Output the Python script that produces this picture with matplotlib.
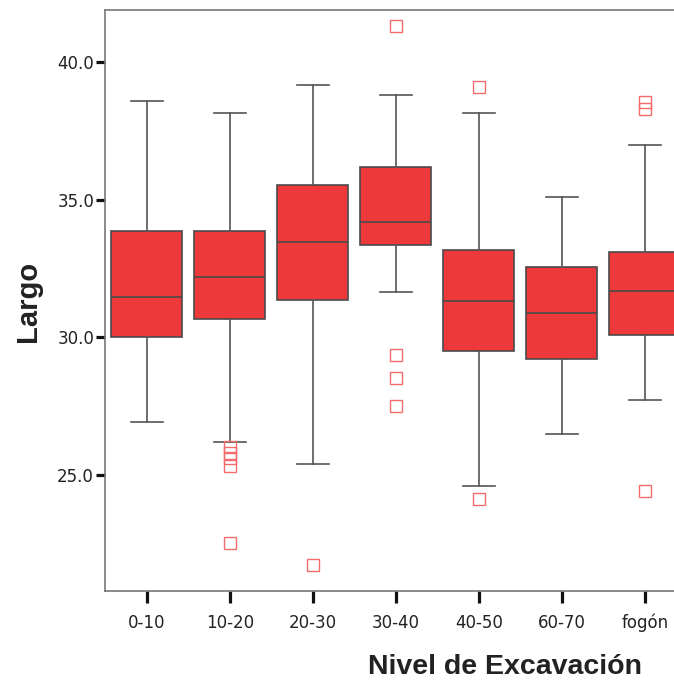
import matplotlib
matplotlib.use("Agg")
import matplotlib.pyplot as plt

categories = ["0-10", "10-20", "20-30", "30-40", "40-50", "60-70", "fogón"]
whislo = [26.92, 26.19, 25.39, 31.65, 24.58, 26.48, 27.72]
q1 = [30.00, 30.67, 31.36, 33.36, 29.48, 29.19, 30.06]
med = [31.47, 32.20, 33.45, 34.20, 31.32, 30.87, 31.68]
q3 = [33.84, 33.84, 35.52, 36.18, 33.17, 32.56, 33.09]
whishi = [38.59, 38.15, 39.16, 38.80, 38.15, 35.09, 36.97]
outliers = [
    [],
    [26.0, 25.8, 25.6, 25.3, 22.52],
    [21.72],
    [41.3, 29.35, 28.53, 27.5],
    [39.1, 24.13],
    [],
    [38.55, 38.3, 24.42],
]
yticks = [25.0, 30.0, 35.0, 40.0]

fig = plt.figure(figsize=(6.74, 6.83), dpi=100)
ax = fig.add_axes([104.5 / 674, 92 / 683, 1 - 104.5 / 674, 581 / 683])

stats = []
for i, c in enumerate(categories):
    stats.append(dict(label=c, whislo=whislo[i], q1=q1[i], med=med[i],
                      q3=q3[i], whishi=whishi[i], fliers=outliers[i]))

ax.bxp(stats, positions=range(len(categories)), widths=0.855,
       patch_artist=True, showfliers=True,
       boxprops=dict(facecolor="#EE393A", edgecolor="#4a4a4a", linewidth=1.2),
       medianprops=dict(color="#4a4a4a", linewidth=1.2),
       whiskerprops=dict(color="#555555", linewidth=1.2),
       capprops=dict(color="#555555", linewidth=1.2),
       capwidths=0.385,
       flierprops=dict(marker="s", markersize=8.5, markerfacecolor="none",
                       markeredgecolor="#F36B6B", markeredgewidth=1.0,
                       linestyle="none"))

ax.set_xlim(-0.508, 6.35)
ax.set_ylim(20.77, 41.89)
ax.set_yticks(yticks)
ax.set_yticklabels([f"{v:.1f}" for v in yticks])
ax.set_xticks(range(len(categories)))
ax.set_xticklabels(categories)

ax.spines["right"].set_visible(False)
for s in ["left", "top", "bottom"]:
    ax.spines[s].set_color("#777777")
    ax.spines[s].set_linewidth(1.2)

ax.tick_params(axis="y", length=6.5, width=2.3, color="#111111",
               labelsize=12, labelcolor="#222222", pad=1)
ax.tick_params(axis="x", length=8.5, width=2.3, color="#111111",
               labelsize=12, labelcolor="#222222", pad=8)
for lab in ax.get_xticklabels() + ax.get_yticklabels():
    lab.set_family("DejaVu Sans")

fig.text(505.5 / 674, 1 - 667 / 683, "Nivel de Excavación", ha="center",
         va="center", fontsize=20.5, fontweight="bold",
         family="Liberation Sans", color="#222222")
fig.text(28 / 674, 1 - 301 / 683, "Largo", ha="center", va="center",
         rotation=90, fontsize=21, fontweight="bold",
         family="Liberation Sans", color="#222222")

fig.savefig("out.png", dpi=100)
